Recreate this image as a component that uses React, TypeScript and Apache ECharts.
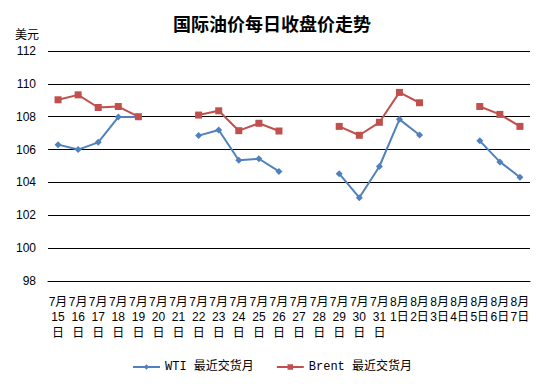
import React, { useEffect, useRef } from "react";
import * as echarts from "echarts";

const categories = [
  "7月\n15\n日", "7月\n16\n日", "7月\n17\n日", "7月\n18\n日", "7月\n19\n日", "7月\n20\n日",
  "7月\n21\n日", "7月\n22\n日", "7月\n23\n日", "7月\n24\n日", "7月\n25\n日", "7月\n26\n日",
  "7月\n27\n日", "7月\n28\n日", "7月\n29\n日", "7月\n30\n日", "7月\n31\n日",
  "8月\n1日", "8月\n2日", "8月\n3日", "8月\n4日", "8月\n5日", "8月\n6日", "8月\n7日",
];

const wti = [
  106.3, 106.0, 106.44, 107.98, 107.98, null, null, 106.85, 107.19, 105.35, 105.44, 104.67,
  null, null, 104.53, 103.07, 104.97, 107.84, 106.89, null, null, 106.53, 105.25, 104.32,
];

const brent = [
  109.03, 109.33, 108.56, 108.62, 108.0, null, null, 108.1, 108.36, 107.15, 107.6, 107.13,
  null, null, 107.41, 106.87, 107.66, 109.48, 108.85, null, null, 108.62, 108.14, 107.41,
];

const seriesNames = ["WTI 最近交货月", "Brent 最近交货月"];
const titleText = "国际油价每日收盘价走势";
const yUnit = "美元";

const sansFont = "'Liberation Sans', 'Noto Sans CJK SC', sans-serif";
const monoFont = "'Liberation Mono', 'Noto Sans CJK SC', monospace";

export default function App() {
  const ref = useRef<HTMLDivElement>(null);
  useEffect(() => {
    if (!ref.current) return;
    const chart = echarts.init(ref.current, null, { renderer: "svg" });
    chart.setOption({
      animation: false,
      backgroundColor: "#ffffff",
      title: {
        text: titleText,
        left: "center",
        top: 9,
        textStyle: {
          fontFamily: "'Noto Sans CJK SC', sans-serif",
          fontSize: 18,
          fontWeight: "bold",
          color: "#000",
        },
      },
      legend: {
        bottom: 6,
        left: "center",
        itemWidth: 27,
        itemHeight: 7,
        itemGap: 22,
        textStyle: { fontFamily: monoFont, fontSize: 12, color: "#000" },
        data: seriesNames,
      },
      grid: { left: 48, right: 14, top: 51, bottom: 103, containLabel: false },
      xAxis: {
        type: "category",
        data: categories,
        boundaryGap: true,
        axisLine: { show: true, lineStyle: { color: "#000", width: 1 } },
        axisTick: { show: false },
        axisLabel: {
          interval: 0,
          margin: 13,
          fontFamily: sansFont,
          fontSize: 12,
          lineHeight: 15.5,
          color: "#000",
        },
      },
      yAxis: {
        type: "value",
        min: 98,
        max: 112,
        interval: 2,
        name: yUnit,
        nameLocation: "end",
        nameGap: 10,
        nameTextStyle: {
          fontFamily: sansFont,
          fontSize: 12,
          color: "#000",
          align: "right",
          padding: [0, 9, 0, 0],
        },
        axisLine: { show: false },
        axisTick: { show: false },
        axisLabel: { margin: 12, fontFamily: sansFont, fontSize: 12, color: "#000" },
        splitLine: { show: true, lineStyle: { color: "#000", width: 1 } },
      },
      series: [
        {
          name: seriesNames[0],
          type: "line",
          data: wti,
          connectNulls: false,
          symbol: "diamond",
          symbolSize: 7,
          lineStyle: { color: "#4F81BD", width: 2 },
          itemStyle: { color: "#4F81BD" },
        },
        {
          name: seriesNames[1],
          type: "line",
          data: brent,
          connectNulls: false,
          symbol: "rect",
          symbolSize: 7,
          lineStyle: { color: "#C0504D", width: 2 },
          itemStyle: { color: "#C0504D" },
        },
      ],
    });
    return () => chart.dispose();
  }, []);
  return (
    <div
      ref={ref}
      style={{ position: "fixed", left: 0, top: 0, width: 544, height: 384 }}
    />
  );
}
